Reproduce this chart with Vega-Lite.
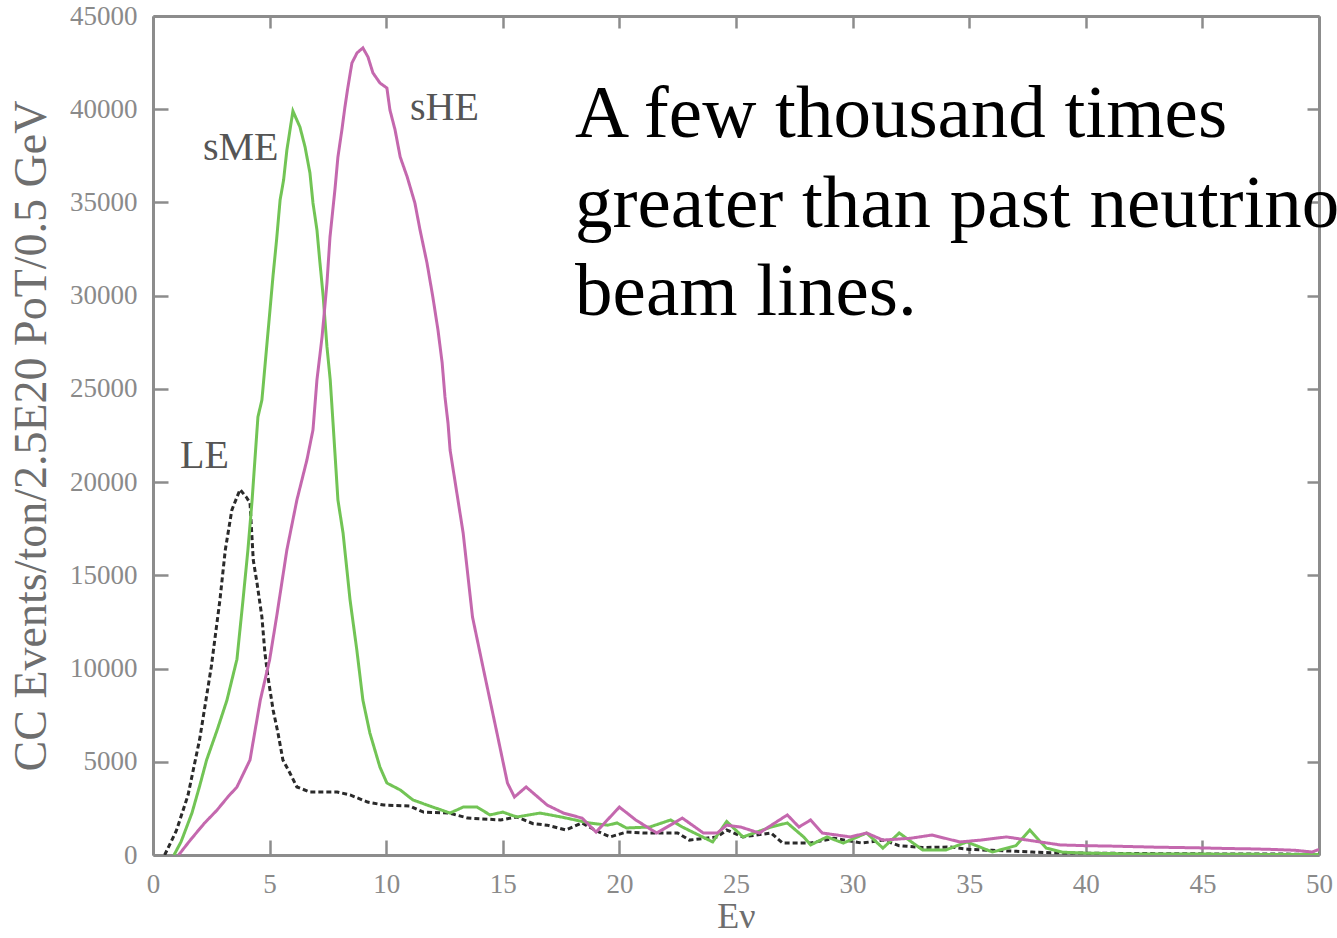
{
  "$schema": "https://vega.github.io/schema/vega-lite/v6.json",
  "width": 1166,
  "height": 839,
  "autosize": {"type": "none"},
  "padding": {"left": 153, "top": 16, "right": 18, "bottom": 83},
  "background": "white",
  "config": {
    "view": {"stroke": null},
    "axis": {
      "grid": false,
      "labelFont": "Liberation Serif",
      "labelFontSize": 27,
      "labelColor": "#8a8a8a",
      "labelFlush": false,
      "domainColor": "#8c8c8c",
      "domainWidth": 3,
      "tickColor": "#8c8c8c",
      "tickWidth": 2.5,
      "titleFont": "Liberation Serif",
      "titleFontWeight": "normal",
      "titleColor": "#6e6e6e"
    }
  },
  "datasets": {
    "curves": [
      {"series":"LE","E":0.5,"events":0},{"series":"LE","E":1.0,"events":1300},{"series":"LE","E":1.5,"events":3200},{"series":"LE","E":2.0,"events":6200},{"series":"LE","E":2.5,"events":10100},{"series":"LE","E":2.87,"events":13680},{"series":"LE","E":3.1,"events":16360},{"series":"LE","E":3.38,"events":18500},{"series":"LE","E":3.73,"events":19600},{"series":"LE","E":4.0,"events":19200},{"series":"LE","E":4.16,"events":18880},{"series":"LE","E":4.3,"events":15820},{"series":"LE","E":4.46,"events":14590},{"series":"LE","E":4.67,"events":12770},{"series":"LE","E":4.8,"events":10830},{"series":"LE","E":4.93,"events":9550},{"series":"LE","E":5.15,"events":7780},{"series":"LE","E":5.36,"events":6540},{"series":"LE","E":5.57,"events":5100},{"series":"LE","E":5.87,"events":4400},{"series":"LE","E":6.17,"events":3650},{"series":"LE","E":6.73,"events":3380},{"series":"LE","E":7.9,"events":3380},{"series":"LE","E":8.45,"events":3220},{"series":"LE","E":9.2,"events":2840},{"series":"LE","E":9.9,"events":2680},{"series":"LE","E":11.0,"events":2630},{"series":"LE","E":11.6,"events":2300},{"series":"LE","E":12.7,"events":2250},{"series":"LE","E":13.5,"events":1980},{"series":"LE","E":14.9,"events":1880},{"series":"LE","E":15.6,"events":2040},{"series":"LE","E":16.3,"events":1680},{"series":"LE","E":16.9,"events":1600},{"series":"LE","E":17.7,"events":1340},{"series":"LE","E":18.4,"events":1720},{"series":"LE","E":19.0,"events":1300},{"series":"LE","E":19.6,"events":970},{"series":"LE","E":20.3,"events":1230},{"series":"LE","E":21.0,"events":1180},{"series":"LE","E":22.5,"events":1180},{"series":"LE","E":23.0,"events":800},{"series":"LE","E":24.2,"events":970},{"series":"LE","E":24.6,"events":1340},{"series":"LE","E":25.3,"events":970},{"series":"LE","E":26.5,"events":1180},{"series":"LE","E":27.0,"events":640},{"series":"LE","E":28.2,"events":640},{"series":"LE","E":29.2,"events":900},{"series":"LE","E":30.4,"events":640},{"series":"LE","E":31.3,"events":800},{"series":"LE","E":32.0,"events":500},{"series":"LE","E":33.0,"events":400},{"series":"LE","E":34.2,"events":430},{"series":"LE","E":35.0,"events":300},{"series":"LE","E":36.0,"events":250},{"series":"LE","E":37.0,"events":200},{"series":"LE","E":37.7,"events":160},{"series":"LE","E":38.5,"events":120},{"series":"LE","E":40,"events":100},{"series":"LE","E":42,"events":80},{"series":"LE","E":45,"events":60},{"series":"LE","E":48,"events":50},{"series":"LE","E":50,"events":40},
      {"series":"sME","E":0.9,"events":0},{"series":"sME","E":1.2,"events":700},{"series":"sME","E":1.67,"events":2250},{"series":"sME","E":2.0,"events":3700},{"series":"sME","E":2.3,"events":5100},{"series":"sME","E":2.75,"events":6700},{"series":"sME","E":3.17,"events":8300},{"series":"sME","E":3.6,"events":10500},{"series":"sME","E":3.86,"events":13680},{"series":"sME","E":4.07,"events":16360},{"series":"sME","E":4.25,"events":19040},{"series":"sME","E":4.37,"events":21190},{"series":"sME","E":4.5,"events":23500},{"series":"sME","E":4.67,"events":24400},{"series":"sME","E":5.0,"events":29000},{"series":"sME","E":5.15,"events":31100},{"series":"sME","E":5.3,"events":33000},{"series":"sME","E":5.45,"events":35130},{"series":"sME","E":5.6,"events":36200},{"series":"sME","E":5.74,"events":37800},{"series":"sME","E":6.0,"events":39900},{"series":"sME","E":6.3,"events":39050},{"series":"sME","E":6.52,"events":37980},{"series":"sME","E":6.73,"events":36580},{"series":"sME","E":6.86,"events":34970},{"series":"sME","E":7.03,"events":33530},{"series":"sME","E":7.16,"events":31750},{"series":"sME","E":7.3,"events":29930},{"series":"sME","E":7.46,"events":27250},{"series":"sME","E":7.6,"events":25480},{"series":"sME","E":7.72,"events":23170},{"series":"sME","E":7.93,"events":19040},{"series":"sME","E":8.15,"events":17270},{"series":"sME","E":8.45,"events":13680},{"series":"sME","E":8.74,"events":11000},{"series":"sME","E":9.0,"events":8310},{"series":"sME","E":9.3,"events":6540},{"series":"sME","E":9.73,"events":4720},{"series":"sME","E":10.03,"events":3860},{"series":"sME","E":10.6,"events":3490},{"series":"sME","E":11.15,"events":2950},{"series":"sME","E":12.0,"events":2570},{"series":"sME","E":12.74,"events":2250},{"series":"sME","E":13.3,"events":2570},{"series":"sME","E":13.9,"events":2570},{"series":"sME","E":14.45,"events":2150},{"series":"sME","E":15.0,"events":2300},{"series":"sME","E":15.6,"events":2040},{"series":"sME","E":16.6,"events":2250},{"series":"sME","E":17.5,"events":2040},{"series":"sME","E":18.7,"events":1720},{"series":"sME","E":19.5,"events":1600},{"series":"sME","E":19.9,"events":1720},{"series":"sME","E":20.3,"events":1450},{"series":"sME","E":21.3,"events":1500},{"series":"sME","E":22.2,"events":1880},{"series":"sME","E":22.7,"events":1500},{"series":"sME","E":24.0,"events":700},{"series":"sME","E":24.6,"events":1800},{"series":"sME","E":25.3,"events":970},{"series":"sME","E":26.5,"events":1500},{"series":"sME","E":27.2,"events":1720},{"series":"sME","E":27.9,"events":970},{"series":"sME","E":28.2,"events":540},{"series":"sME","E":28.9,"events":970},{"series":"sME","E":29.6,"events":640},{"series":"sME","E":30.6,"events":1180},{"series":"sME","E":31.3,"events":370},{"series":"sME","E":32.0,"events":1180},{"series":"sME","E":33.0,"events":270},{"series":"sME","E":34.0,"events":270},{"series":"sME","E":34.9,"events":700},{"series":"sME","E":36.0,"events":160},{"series":"sME","E":37.0,"events":500},{"series":"sME","E":37.6,"events":1340},{"series":"sME","E":38.3,"events":370},{"series":"sME","E":39.0,"events":150},{"series":"sME","E":40,"events":100},{"series":"sME","E":42,"events":60},{"series":"sME","E":45,"events":50},{"series":"sME","E":48,"events":30},{"series":"sME","E":50,"events":20},
      {"series":"sHE","E":1.1,"events":0},{"series":"sHE","E":1.6,"events":800},{"series":"sHE","E":2.2,"events":1700},{"series":"sHE","E":2.74,"events":2400},{"series":"sHE","E":3.2,"events":3100},{"series":"sHE","E":3.6,"events":3650},{"series":"sHE","E":4.16,"events":5100},{"series":"sHE","E":4.6,"events":8300},{"series":"sHE","E":5.0,"events":10460},{"series":"sHE","E":5.3,"events":12770},{"series":"sHE","E":5.74,"events":16360},{"series":"sHE","E":6.17,"events":19040},{"series":"sHE","E":6.6,"events":21190},{"series":"sHE","E":6.86,"events":22800},{"series":"sHE","E":7.03,"events":25480},{"series":"sHE","E":7.25,"events":27790},{"series":"sHE","E":7.46,"events":30680},{"series":"sHE","E":7.59,"events":33150},{"series":"sHE","E":7.8,"events":35670},{"series":"sHE","E":7.93,"events":37440},{"series":"sHE","E":8.1,"events":38890},{"series":"sHE","E":8.23,"events":40120},{"series":"sHE","E":8.36,"events":41200},{"series":"sHE","E":8.53,"events":42480},{"series":"sHE","E":8.75,"events":43020},{"series":"sHE","E":9.0,"events":43290},{"series":"sHE","E":9.22,"events":42800},{"series":"sHE","E":9.43,"events":41950},{"series":"sHE","E":9.73,"events":41410},{"series":"sHE","E":10.03,"events":41140},{"series":"sHE","E":10.16,"events":39960},{"series":"sHE","E":10.38,"events":38890},{"series":"sHE","E":10.6,"events":37440},{"series":"sHE","E":10.9,"events":36370},{"series":"sHE","E":11.23,"events":34970},{"series":"sHE","E":11.45,"events":33530},{"series":"sHE","E":11.75,"events":31750},{"series":"sHE","E":12.0,"events":29930},{"series":"sHE","E":12.22,"events":28160},{"series":"sHE","E":12.4,"events":26390},{"series":"sHE","E":12.52,"events":24570},{"series":"sHE","E":12.65,"events":23170},{"series":"sHE","E":12.74,"events":21720},{"series":"sHE","E":13.3,"events":17270},{"series":"sHE","E":13.7,"events":12770},{"series":"sHE","E":14.15,"events":10080},{"series":"sHE","E":14.75,"events":6540},{"series":"sHE","E":15.2,"events":3860},{"series":"sHE","E":15.5,"events":3110},{"series":"sHE","E":16.0,"events":3650},{"series":"sHE","E":16.9,"events":2680},{"series":"sHE","E":17.6,"events":2250},{"series":"sHE","E":18.4,"events":1980},{"series":"sHE","E":19.0,"events":1230},{"series":"sHE","E":20.0,"events":2570},{"series":"sHE","E":20.7,"events":1880},{"series":"sHE","E":21.6,"events":1180},{"series":"sHE","E":22.7,"events":1980},{"series":"sHE","E":23.6,"events":1180},{"series":"sHE","E":24.2,"events":1180},{"series":"sHE","E":24.6,"events":1600},{"series":"sHE","E":25.2,"events":1500},{"series":"sHE","E":26.0,"events":1180},{"series":"sHE","E":27.2,"events":2150},{"series":"sHE","E":27.7,"events":1500},{"series":"sHE","E":28.2,"events":1880},{"series":"sHE","E":28.7,"events":1180},{"series":"sHE","E":29.9,"events":970},{"series":"sHE","E":30.6,"events":1180},{"series":"sHE","E":31.3,"events":800},{"series":"sHE","E":32.5,"events":900},{"series":"sHE","E":33.4,"events":1070},{"series":"sHE","E":34.6,"events":700},{"series":"sHE","E":35.5,"events":800},{"series":"sHE","E":36.6,"events":970},{"series":"sHE","E":37.5,"events":800},{"series":"sHE","E":38.9,"events":540},{"series":"sHE","E":40,"events":500},{"series":"sHE","E":41,"events":480},{"series":"sHE","E":42,"events":450},{"series":"sHE","E":43,"events":420},{"series":"sHE","E":44,"events":400},{"series":"sHE","E":45,"events":380},{"series":"sHE","E":46,"events":350},{"series":"sHE","E":47,"events":330},{"series":"sHE","E":48,"events":300},{"series":"sHE","E":49,"events":250},{"series":"sHE","E":49.7,"events":160},{"series":"sHE","E":50,"events":300}
    ],
    "note": [
      {"text":"A few thousand times","E":18.1,"events":38514},
      {"text":"greater than past neutrino","E":18.1,"events":33686},
      {"text":"beam lines.","E":18.1,"events":28966}
    ],
    "names": [
      {"text":"LE","E":1.16,"events":20759},
      {"text":"sME","E":2.14,"events":37280},
      {"text":"sHE","E":11.02,"events":39425}
    ]
  },
  "resolve": {"axis": {"x": "independent", "y": "independent"}},
  "layer": [
    {
      "data": {"name": "curves"},
      "mark": {"type": "line", "strokeWidth": 3, "clip": true},
      "encoding": {
        "x": {"field": "E", "type": "quantitative",
              "scale": {"domain": [0, 50], "nice": false, "zero": false},
              "axis": {"orient": "bottom", "values": [0,5,10,15,20,25,30,35,40,45,50], "tickSize": -15, "labelPadding": 31,
                       "title": "Eν", "titleFontSize": 36, "titlePadding": 2}},
        "y": {"field": "events", "type": "quantitative",
              "scale": {"domain": [0, 45000], "nice": false},
              "axis": {"orient": "left", "values": [0,5000,10000,15000,20000,25000,30000,35000,40000,45000], "format": "d",
                       "tickSize": -15, "labelPadding": 31,
                       "title": "CC Events/ton/2.5E20 PoT/0.5 GeV", "titleFontSize": 46, "titlePadding": 14}},
        "color": {"field": "series", "type": "nominal",
                  "scale": {"domain": ["LE","sME","sHE"], "range": ["#2a2a2a","#72c455","#c468ae"]}, "legend": null},
        "strokeDash": {"field": "series", "type": "nominal",
                  "scale": {"domain": ["LE","sME","sHE"], "range": [[5,3],[1,0],[1,0]]}, "legend": null}
      }
    },
    {
      "data": {"name": "note"},
      "mark": {"type": "text", "align": "left", "baseline": "alphabetic", "font": "Liberation Serif", "fontSize": 75, "color": "#000000"},
      "encoding": {
        "x": {"field": "E", "type": "quantitative",
              "scale": {"domain": [0, 50], "nice": false, "zero": false},
              "axis": {"orient": "top", "values": [0,5,10,15,20,25,30,35,40,45,50], "labels": false, "title": null, "tickSize": -12}},
        "y": {"field": "events", "type": "quantitative",
              "scale": {"domain": [0, 45000], "nice": false},
              "axis": {"orient": "right", "values": [0,5000,10000,15000,20000,25000,30000,35000,40000,45000], "labels": false, "title": null, "tickSize": -12}},
        "text": {"field": "text", "type": "nominal"}
      }
    },
    {
      "data": {"name": "names"},
      "mark": {"type": "text", "align": "left", "baseline": "alphabetic", "font": "Liberation Serif", "fontSize": 40, "color": "#555555"},
      "encoding": {
        "x": {"field": "E", "type": "quantitative", "scale": {"domain": [0, 50], "nice": false, "zero": false}, "axis": null},
        "y": {"field": "events", "type": "quantitative", "scale": {"domain": [0, 45000], "nice": false}, "axis": null},
        "text": {"field": "text", "type": "nominal"}
      }
    }
  ]
}
